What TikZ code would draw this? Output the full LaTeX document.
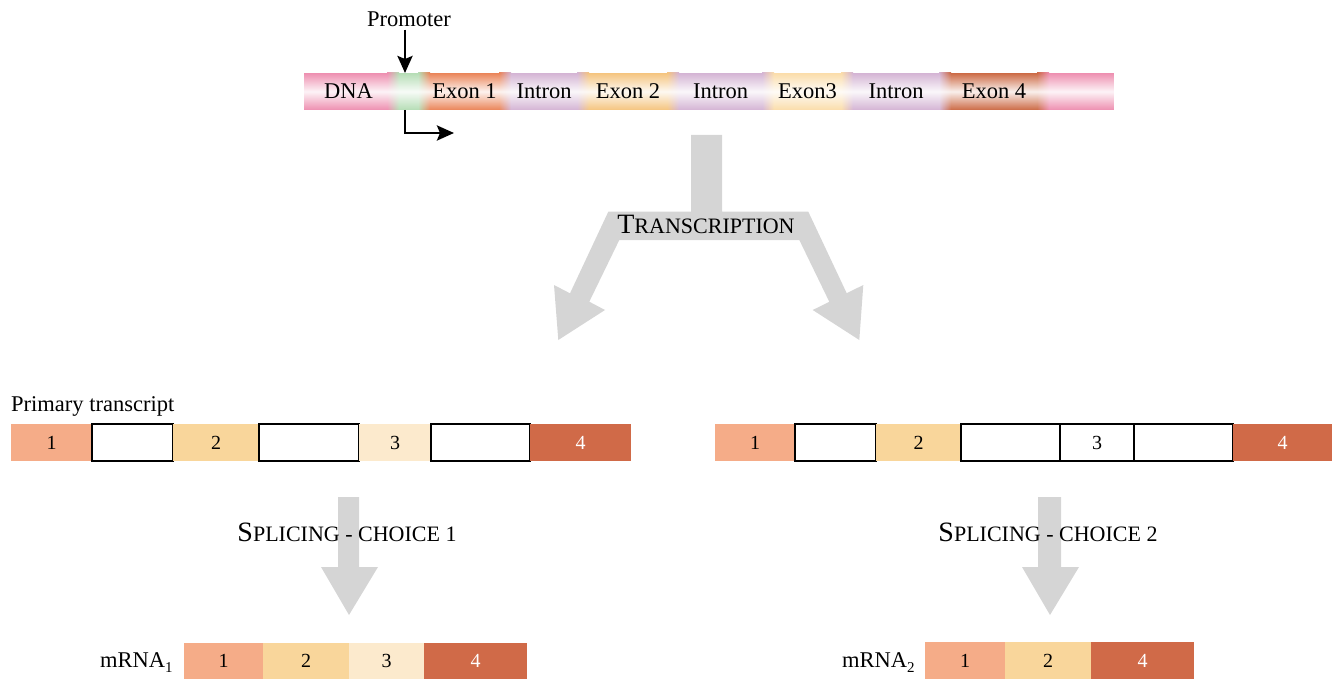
\documentclass[tikz,border=0pt]{standalone}
\usepackage{fontspec}
\setmainfont{Liberation Serif}
\usetikzlibrary{arrows.meta,fadings}
\definecolor{exA}{HTML}{F5AC88}
\definecolor{exB}{HTML}{F9D69B}
\definecolor{exC}{HTML}{FCEACD}
\definecolor{exD}{HTML}{D06A48}
\definecolor{arrowgray}{HTML}{D5D5D5}
\definecolor{dPink}{HTML}{EE8FB0}
\definecolor{dGreen}{HTML}{B5DDB5}
\definecolor{dExA}{HTML}{EA8458}
\definecolor{dIntron}{HTML}{D4B4D4}
\definecolor{dExB}{HTML}{F5C47E}
\definecolor{dExC}{HTML}{FBDDAA}
\definecolor{dExD}{HTML}{CC6A45}
\tikzfading[name=glow, top color=transparent!100, bottom color=transparent!100, middle color=transparent!10]
\newcommand{\mysc}[2]{{\fontsize{28}{31}\selectfont #1}{\fontsize{22}{25}\selectfont #2}}
\begin{document}
\begin{tikzpicture}[x=1pt,y=-1pt,
  body/.style={font=\fontsize{22.5}{26}\selectfont},
  dseg/.style={inner sep=0pt, outer sep=0pt, minimum height=37pt, anchor=north west, draw=none},
  dlabel/.style={body, anchor=base, inner sep=0pt},
  exonbox/.style={inner sep=0pt, outer sep=0pt, minimum height=37pt, anchor=north west, font=\fontsize{20}{24}\selectfont},
  intronbox/.style={exonbox, draw=black, line width=2.5pt, fill=white},
  blockarrow/.style={fill=arrowgray, draw=none},
  ptr/.style={line width=2.7pt, -{Stealth[length=17pt,width=15pt,inset=3pt]}},
  heading/.style={inner sep=0pt}
]
\useasboundingbox (0,0) rectangle (1338,679);

% ---------- DNA strip ----------
\node[dseg, fill=dPink,   minimum width=89pt] (d0) at (304,73) {};
\node[dseg, fill=dGreen,  minimum width=31pt] (dp) at (393,73) {};
\node[dseg, fill=dExA,    minimum width=81pt] (d1) at (424,73) {};
\node[dseg, fill=dIntron, minimum width=78pt] (i1) at (505,73) {};
\node[dseg, fill=dExB,    minimum width=90pt] (d2) at (583,73) {};
\node[dseg, fill=dIntron, minimum width=95pt] (i2) at (673,73) {};
\node[dseg, fill=dExC,    minimum width=79pt] (d3) at (768,73) {};
\node[dseg, fill=dIntron, minimum width=98pt] (i3) at (847,73) {};
\node[dseg, fill=dExD,    minimum width=98pt] (d4) at (945,73) {};
\node[dseg, fill=dPink,   minimum width=71pt] (d5) at (1043,73) {};
% soft blends between segments
\shade[left color=dPink,   right color=dGreen]  (387,73) rectangle (399,110);
\shade[left color=dGreen,  right color=dExA]    (418,73) rectangle (430,110);
\shade[left color=dExA,    right color=dIntron] (499,73) rectangle (511,110);
\shade[left color=dIntron, right color=dExB]    (577,73) rectangle (589,110);
\shade[left color=dExB,    right color=dIntron] (667,73) rectangle (679,110);
\shade[left color=dIntron, right color=dExC]    (762,73) rectangle (774,110);
\shade[left color=dExC,    right color=dIntron] (841,73) rectangle (853,110);
\shade[left color=dIntron, right color=dExD]    (939,73) rectangle (951,110);
\shade[left color=dExD,    right color=dPink]   (1037,73) rectangle (1049,110);
% cylinder highlight
\fill[white, path fading=glow] (304,73) rectangle (1114,110);
% labels
\node[dlabel] at ([yshift=-7pt]d0.center) {DNA};
\node[dlabel] at ([yshift=-7pt]d1.center) {Exon 1};
\node[dlabel] at ([yshift=-7pt]i1.center) {Intron};
\node[dlabel] at ([yshift=-7pt]d2.center) {Exon 2};
\node[dlabel] at ([yshift=-7pt]i2.center) {Intron};
\node[dlabel] at ([yshift=-7pt]d3.center) {Exon3};
\node[dlabel] at ([yshift=-7pt]i3.center) {Intron};
\node[dlabel] at ([yshift=-7pt]d4.center) {Exon 4};

% promoter
\node[body, inner sep=3pt] (prom) at (409,19) {Promoter};
\coordinate (tss) at (454,133);
\draw[ptr] ([xshift=-3.5pt]dp.north |- prom.south) -- ([xshift=-3.5pt]dp.north);
\draw[ptr] ([xshift=-3.5pt]dp.south) |- (tss);

% ---------- transcription arrow ----------
\path[blockarrow] (691,135) -- (722,135) -- (722,211.7) -- (808.3,211.7) -- (846.7,293.2)
  -- (863.3,285) -- (859.3,340) -- (812.7,310) -- (829.3,301.8) -- (799.3,240)
  -- (619.3,240) -- (589.3,301.7) -- (605,310) -- (558.3,340) -- (554,285)
  -- (570,293.3) -- (608.3,211.7) -- (691,211.7) -- cycle;
\node[heading] (transc) at (706,224) {\mysc{T}{RANSCRIPTION}};

% ---------- primary transcript (left) ----------
\node[body, anchor=base west, inner sep=0pt] (ptlabel) at (11,411) {Primary transcript};
\node[exonbox, fill=exA, minimum width=81pt] (la1) at (11,424) {1};
\node[intronbox, minimum width=81pt] (lb1) at (92,424) {};
\node[exonbox, fill=exB, minimum width=86pt] (la2) at (173,424) {2};
\node[intronbox, minimum width=100pt] (lb2) at (259,424) {};
\node[exonbox, fill=exC, minimum width=72pt] (la3) at (359,424) {3};
\node[intronbox, minimum width=99pt] (lb3) at (431,424) {};
\node[exonbox, fill=exD, minimum width=101pt, text=white] (la4) at (530,424) {4};

% ---------- primary transcript (right) ----------
\node[exonbox, fill=exA, minimum width=80pt] (ra1) at (715,424) {1};
\node[intronbox, minimum width=81pt] (rb1) at (795,424) {};
\node[exonbox, fill=exB, minimum width=85pt] (ra2) at (876,424) {2};
\node[intronbox, minimum width=99pt] (rb2) at (961,424) {};
\node[intronbox, minimum width=74pt] (ra3) at (1060,424) {3};
\node[intronbox, minimum width=99pt] (rb3) at (1134,424) {};
\node[exonbox, fill=exD, minimum width=99pt, text=white] (ra4) at (1233,424) {4};

% ---------- splicing arrows ----------
\path[blockarrow] (338,497) -- (359,497) -- (359,567) -- (378,567) -- (349,615) -- (321,567) -- (338,567) -- cycle;
\path[blockarrow] (1038,497) -- (1061,497) -- (1061,567) -- (1079,567) -- (1050,615) -- (1022,567) -- (1038,567) -- cycle;
\node[heading] (splice1) at (347,532) {\mysc{S}{PLICING - CHOICE 1}};
\node[heading] (splice2) at (1048,532) {\mysc{S}{PLICING - CHOICE 2}};

% ---------- mRNA 1 ----------
\node[body, anchor=base west, inner sep=0pt] (m1label) at (100,667) {mRNA\raisebox{-5pt}{\fontsize{15}{15}\selectfont 1}};
\node[exonbox, fill=exA, minimum width=79pt, minimum height=36pt] (m1a) at (184,643) {1};
\node[exonbox, fill=exB, minimum width=86pt, minimum height=36pt] (m1b) at (263,643) {2};
\node[exonbox, fill=exC, minimum width=75pt, minimum height=36pt] (m1c) at (349,643) {3};
\node[exonbox, fill=exD, minimum width=103pt, minimum height=36pt, text=white] (m1d) at (424,643) {4};

% ---------- mRNA 2 ----------
\node[body, anchor=base west, inner sep=0pt] (m2label) at (842,667) {mRNA\raisebox{-5pt}{\fontsize{15}{15}\selectfont 2}};
\node[exonbox, fill=exA, minimum width=80pt, minimum height=37pt] (m2a) at (925,642) {1};
\node[exonbox, fill=exB, minimum width=86pt, minimum height=37pt] (m2b) at (1005,642) {2};
\node[exonbox, fill=exD, minimum width=103pt, minimum height=37pt, text=white] (m2c) at (1091,642) {4};
\end{tikzpicture}
\end{document}
